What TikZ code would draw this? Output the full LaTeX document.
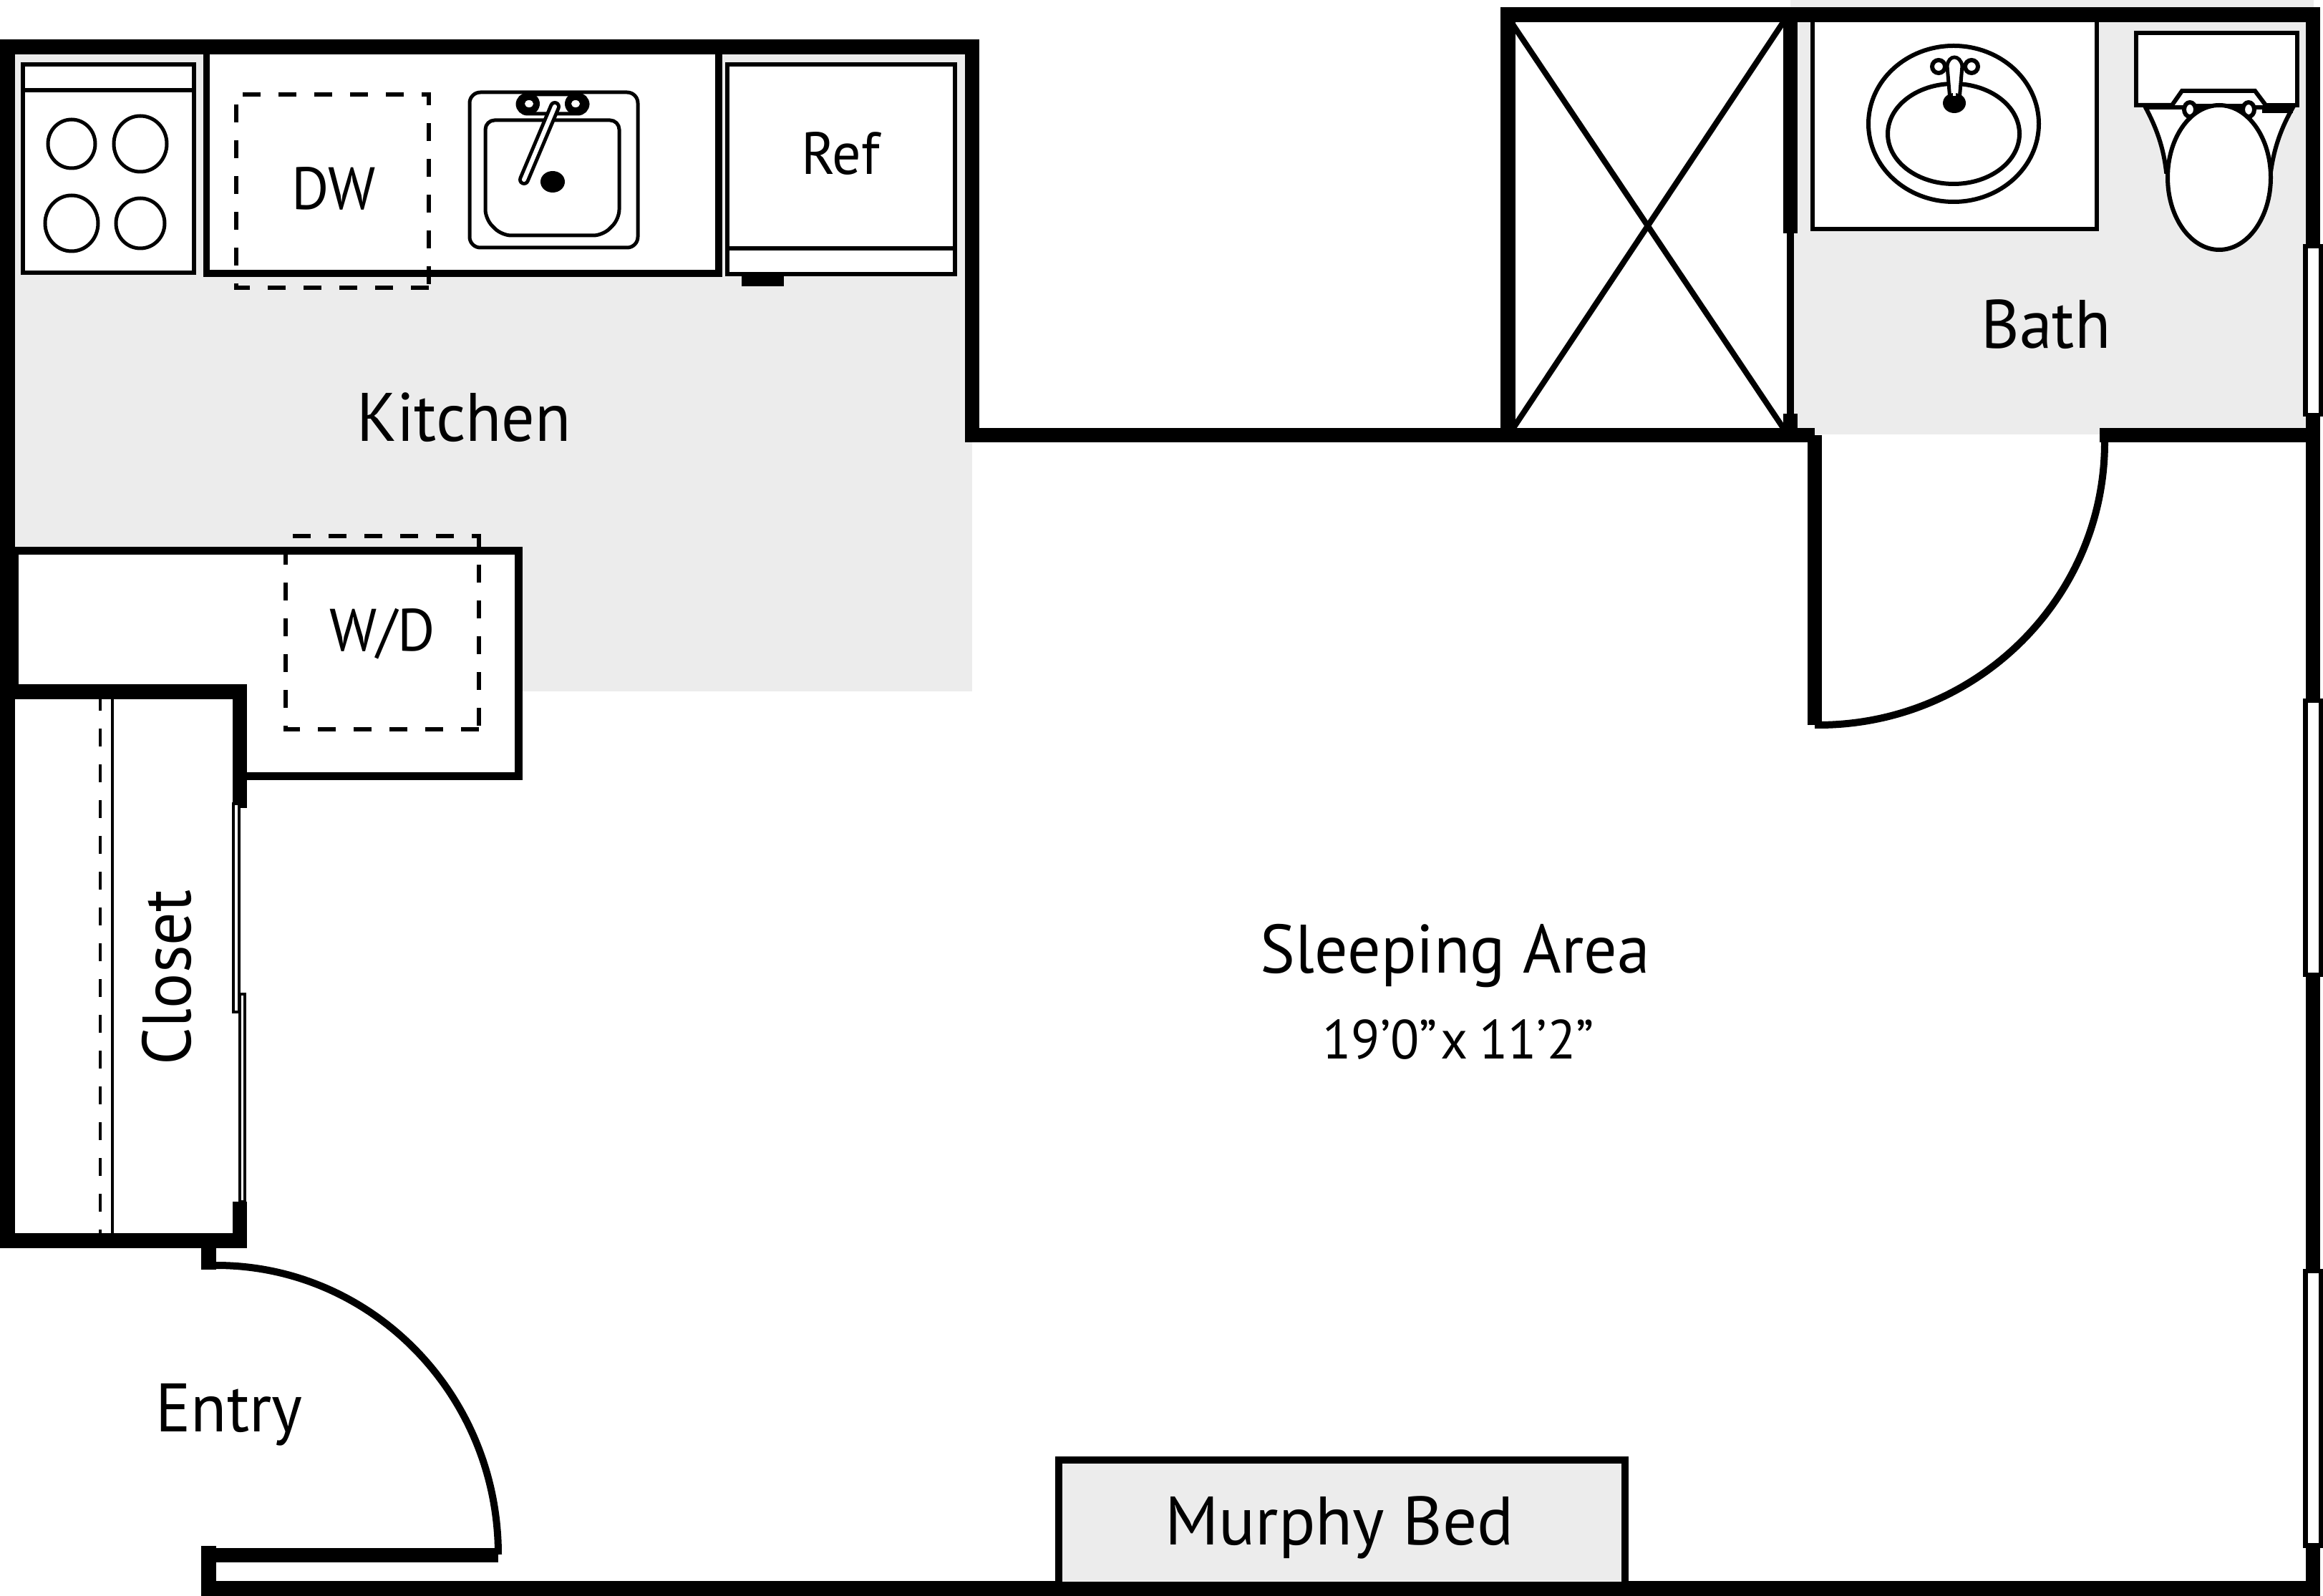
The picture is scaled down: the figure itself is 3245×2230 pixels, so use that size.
\documentclass[tikz,border=0pt]{standalone}
\usepackage{fontspec}
\setmainfont{PT Sans}[FakeStretch=0.96]
\def\u{0.24pt}
\definecolor{floorgray}{HTML}{ECECEC}
\tikzset{
  wall/.style={fill=black,draw=none},
  fixture/.style={draw=black,fill=white,line width=6*\u},
  thin line/.style={draw=black,line width=5*\u},
  door arc/.style={draw=black,line width=10*\u},
  dash line/.style={draw=black,line width=6*\u,dash pattern=on 25*\u off 25*\u},
  lbl/.style={inner sep=0pt,text=black,anchor=base},
  room/.style={lbl,font=\fontsize{23}{28}\selectfont},
  dims text/.style={lbl,font=\fontsize{18.5}{22}\selectfont},
  appliance/.style={lbl,font=\fontsize{20}{24}\selectfont},
}
\begin{document}
\begin{tikzpicture}[x=0.24pt,y=-0.24pt]
\useasboundingbox (0,0) rectangle (3245,2230);
\fill[white] (0,0) rectangle (3245,2230);
% floors
\fill[floorgray] (0,55) rectangle (1358,966);
\fill[floorgray] (2501,0) rectangle (3232,607);
% laundry / counter box
\draw[fixture,line width=11*\u] (20,770) -- (724.5,770) -- (724.5,1084.5) -- (330,1084.5) -- (330,977) -- (20,977) -- cycle;
% closet interior
\fill[white] (21,977) rectangle (325,1723);
\draw[dash line,line width=4*\u] (140,968) -- (140,1723);
\draw[draw=black,line width=4*\u] (157,977) -- (157,1723);
% walls
\fill[wall] (0,55) rectangle (1368,76);
\fill[wall] (0,55) rectangle (21,1744);
\fill[wall] (1348,55) rectangle (1368,618);
\fill[wall] (1348,598) rectangle (2535,618);
\fill[wall] (2525,608) rectangle (2545,1013);
\fill[wall] (2933,598) rectangle (3241,618);
\fill[wall] (3221,10) rectangle (3241,2230);
\fill[wall] (2096,10) rectangle (3241,31);
\fill[wall] (2096,10) rectangle (2117,618);
\fill[wall] (2491,31) rectangle (2511,326);
\fill[wall] (2496,326) rectangle (2506,598);
\fill[wall] (2491,578) rectangle (2511,598);
\fill[wall] (0,956) rectangle (345,977);
\fill[wall] (0,1723) rectangle (345,1744);
\fill[wall] (325,956) rectangle (345,1129);
\fill[wall] (325,1679) rectangle (345,1744);
\fill[wall] (281,1744) rectangle (302,1774);
\fill[wall] (281,2160) rectangle (302,2230);
\fill[wall] (281,2163) rectangle (696,2183);
\fill[wall] (281,2209) rectangle (3241,2230);
% closet sliding doors
\draw[draw=black,fill=white,line width=4*\u] (326,1123) rectangle (334,1414);
\draw[draw=black,fill=white,line width=4*\u] (335,1389) rectangle (342,1679);
% windows
\foreach \a/\b/\c/\d in {341/582/347/577,976/1365/982/1359,1773/2163/1779/2156}{
  \fill[wall] (3217,\a) rectangle (3245,\b);
  \fill[white] (3224,\c) rectangle (3239,\d);
}
% doors
\draw[door arc] (696,2172) arc[start angle=0,end angle=-90,x radius=394,y radius=404];
\draw[door arc] (2940,618) arc[start angle=0,end angle=90,x radius=400,y radius=395];
\fill[wall] (2535,1008) rectangle (2545,1018);
% shower
\draw[draw=black,line width=8*\u] (2111,31) -- (2491,598);
\draw[draw=black,line width=8*\u] (2491,31) -- (2114,598);
% range
\draw[fixture] (32,90) rectangle (271,381);
\draw[fixture] (32,126) -- (271,126);
\draw[thin line] (100,201) circle[x radius=33,y radius=34];
\draw[thin line] (196,201) circle[x radius=37,y radius=39];
\draw[thin line] (100,312) circle[x radius=37,y radius=39];
\draw[thin line] (196,312) circle[x radius=34,y radius=35];
% counter
\fill[white] (284,76) rectangle (1009,387);
\fill[wall] (284,76) rectangle (293,387);
\fill[wall] (284,377) rectangle (1009,387);
\fill[wall] (999,76) rectangle (1009,387);
% dishwasher
\draw[dash line] (339,132) -- (599,132) -- (599,402);
\draw[dash line] (599,402) -- (330,402) -- (330,132);
% sink
\draw[thin line,rounded corners=15*\u] (656,129) rectangle (891,346);
\draw[thin line,rounded corners=13*\u] (678,168) -- (865,168) -- (865,306) -- (842,329) -- (701,329) -- (678,306) -- cycle;
\draw[draw=black,fill=white,line width=5*\u,rounded corners=14*\u] (723,132) rectangle (821,159);
\fill[black] (739,145) circle[radius=15];
\fill[black] (804,145) circle[radius=15];
\fill[white] (739,145) circle[x radius=6,y radius=5];
\fill[white] (804,145) circle[x radius=6,y radius=5];
\draw[draw=black,line width=16*\u,line cap=round] (775,149) -- (732,251);
\draw[draw=white,line width=6*\u,line cap=round] (775,149) -- (732,251);
\fill[black] (772,254) circle[x radius=17,y radius=15];
% refrigerator
\fill[white] (1013,87) rectangle (1337,386);
\draw[fixture] (1016,90) rectangle (1334,383);
\draw[fixture] (1016,347) -- (1334,347);
\fill[wall] (1036,386) rectangle (1095,400);
% vanity
\draw[fixture] (2532,28) rectangle (2929,320);
\draw[fixture] (2729,173) circle[x radius=119,y radius=109];
\draw[fixture] (2729,187) circle[x radius=92,y radius=70];
\draw[draw=black,fill=white,line width=6*\u] (2708,93) circle[radius=9];
\draw[draw=black,fill=white,line width=6*\u] (2754,93) circle[radius=9];
\draw[draw=black,fill=white,line width=5*\u] (2724,140) -- (2720,92) .. controls (2722,76) and (2738,76) .. (2741,92) -- (2737,140) -- cycle;
\fill[black] (2730,144) circle[x radius=16,y radius=14];
\fill[white] (2729,98) -- (2733,98) -- (2732,134) -- (2728,134) -- cycle;
% toilet
\draw[fixture,fill=white] (2997,150) .. controls (3012,178) and (3022,205) .. (3026,240) -- (3172,240) .. controls (3177,205) and (3187,178) .. (3203,150) -- cycle;
\draw[fixture] (2984,46) rectangle (3209,147);
\draw[draw=none,fill=white] (3037,147) -- (3051,127) -- (3150,127) -- (3165,147) -- cycle;
\draw[draw=black,line width=6*\u] (2984,147) -- (3034,147) -- (3048,127) -- (3150,127) -- (3165,147);
\draw[draw=black,line width=5*\u] (3059,148) -- (3141,148);
\fill[wall] (3160,147) rectangle (3203,158);
\draw[draw=black,fill=white,line width=6*\u] (3059,153) circle[x radius=8,y radius=10];
\draw[draw=black,fill=white,line width=6*\u] (3141,153) circle[x radius=8,y radius=10];
\draw[fixture] (3100,248) circle[x radius=72,y radius=101];
% Murphy bed
\draw[draw=black,fill=floorgray,line width=10*\u] (1479,2040) rectangle (2270,2215);
% washer dryer
\draw[dash line] (409,749) -- (669,749) -- (669,1019);
\draw[dash line] (669,1019) -- (399,1019) -- (399,749);
% labels
\node[room] (kitchen) at (648,617) {Kitchen};
\node[room] (sleeping) at (2033,1359) {Sleeping Area};
\node[dims text] (dims) at (2037,1479) {19’0”\hspace{0.06em}x\hspace{0.2em}11’2”};
\node[room] (bath) at (2858,487) {Bath};
\node[room,rotate=90] (closet) at (266,1366) {Closet};
\node[room] (entry) at (320,2000) {Entry};
\node[room] (murphy) at (1871,2158) {\scalebox{1.035}[1]{Murphy Bed}};
\node[appliance] (dw) at (466,293) {DW};
\node[appliance] (wd) at (534,910) {W/D};
\node[appliance] (ref) at (1174,244) {Ref};
\end{tikzpicture}
\end{document}
